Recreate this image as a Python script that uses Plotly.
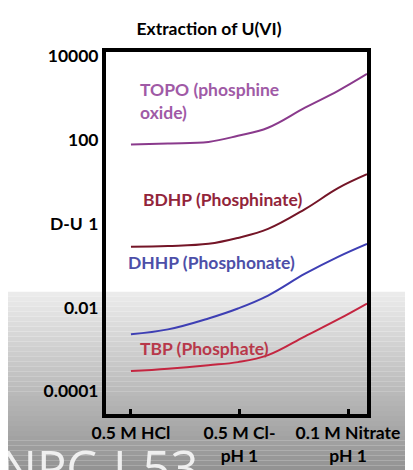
import plotly.graph_objects as go

# ---- data ----
x_pos = [0, 0.341, 0.714, 0.986, 1.263, 1.604, 1.908, 2.175]
topo = [78, 83, 90, 126, 196, 590, 1490, 3780]
bdhp = [0.282, 0.294, 0.332, 0.460, 0.753, 2.24, 7.08, 15.2]
dhhp = [0.0023, 0.00302, 0.00551, 0.00953, 0.0194, 0.0644, 0.163, 0.332]
tbp = [0.000305, 0.000349, 0.000423, 0.000499, 0.000731, 0.00206, 0.00521, 0.0125]

series_names = ["TOPO (phosphine<br>oxide)", "BDHP (Phosphinate)", "DHHP (Phosphonate)", "TBP (Phosphate)"]
x_ticks = [0, 1, 2]
x_ticklabels = ["0.5 M HCl", "0.5 M Cl-<br>pH 1", "0.1 M Nitrate<br>pH 1"]
y_ticks = [1e4, 1e2, 1, 1e-2, 1e-4]
y_ticklabels = ["10000", "100", "1", "0.01", "0.0001"]

line_colors = ["#8a3a8c", "#741527", "#3e3fb4", "#c42540"]
text_colors = ["#a05aa6", "#92243a", "#4d4fa8", "#b8384a"]
label_pos = [(0.065, 2.92), (0.092, 0.58), (-0.046, -0.93), (0.065, -2.98)]

FONT = "Lato"
FS = 17.5

fig = go.Figure()
for ys, c in zip([topo, bdhp, dhhp, tbp], line_colors):
    fig.add_trace(go.Scatter(x=x_pos, y=ys, mode="lines",
                             line=dict(color=c, width=2, shape="spline", smoothing=1.1),
                             showlegend=False, hoverinfo="skip"))

# series labels
for name, c, (lx, ly) in zip(series_names, text_colors, label_pos):
    fig.add_annotation(x=lx, y=ly, xref="x", yref="y",
                       text="<b>" + name.replace("<br>", "</b><br><b>") + "</b>",
                       showarrow=False, xanchor="left", yanchor="middle", align="left",
                       font=dict(family=FONT, size=FS, color=c))

# axis title D-U
fig.add_annotation(x=0, y=0, xref="paper", yref="y", text="<b>D-U</b>", showarrow=False,
                   xanchor="right", yanchor="middle", xshift=-21,
                   font=dict(family=FONT, size=FS, color="black"))

# grey overlay gradient (video frame)
shapes = []
top_px, bot_px = 44, 408
for i in range(38):
    p0 = 285 + i * 5
    p1 = p0 + 5
    g = int(round(236 - 0.5 * (p0 + 2.5 - 285)))
    shapes.append(dict(type="rect", xref="paper", yref="paper",
                       x0=-0.5, x1=1.5,
                       y0=(bot_px - p1) / (bot_px - top_px), y1=(bot_px - p0) / (bot_px - top_px),
                       fillcolor=f"rgb({g},{g},{g})", line=dict(width=0), layer="below"))
fig.update_layout(shapes=shapes)

# watermark
fig.add_annotation(x=(-10 - 98) / 261, y=(408 - 426) / 364, xref="paper", yref="paper",
                   text="NPC-I-53", showarrow=False,
                   font=dict(family="Open Sans", size=49, color="rgba(246,246,246,0.92)"),
                   xanchor="left", yanchor="top")

fig.update_layout(
    width=413, height=470, autosize=False,
    margin=dict(l=98, r=54, t=44, b=62),
    paper_bgcolor="white", plot_bgcolor="rgba(0,0,0,0)",
    title=dict(text="<b>Extraction of U(VI)</b>", x=201 / 413, xanchor="center",
               y=1 - 21 / 470, yanchor="middle", xref="container", yref="container",
               font=dict(family=FONT, size=FS, color="black")),
    xaxis=dict(range=[-0.23, 2.175], tickvals=x_ticks,
               ticktext=["<b>" + t.replace("<br>", "</b><br><b>") + "</b>" for t in x_ticklabels],
               showgrid=False, zeroline=False, showline=True, linecolor="black", linewidth=4,
               mirror=True, ticks="inside", ticklen=5, tickwidth=3, tickcolor="black",
               tickfont=dict(family=FONT, size=FS, color="black"), fixedrange=True),
    yaxis=dict(type="log", range=[-4.54, 4.10], tickvals=y_ticks,
               ticktext=["<b>" + t + "</b>" for t in y_ticklabels],
               showgrid=False, zeroline=False, showline=True, linecolor="black", linewidth=4,
               mirror=True, ticks="", tickfont=dict(family=FONT, size=FS, color="black"),
               fixedrange=True),
)

fig.write_html("out.html")
